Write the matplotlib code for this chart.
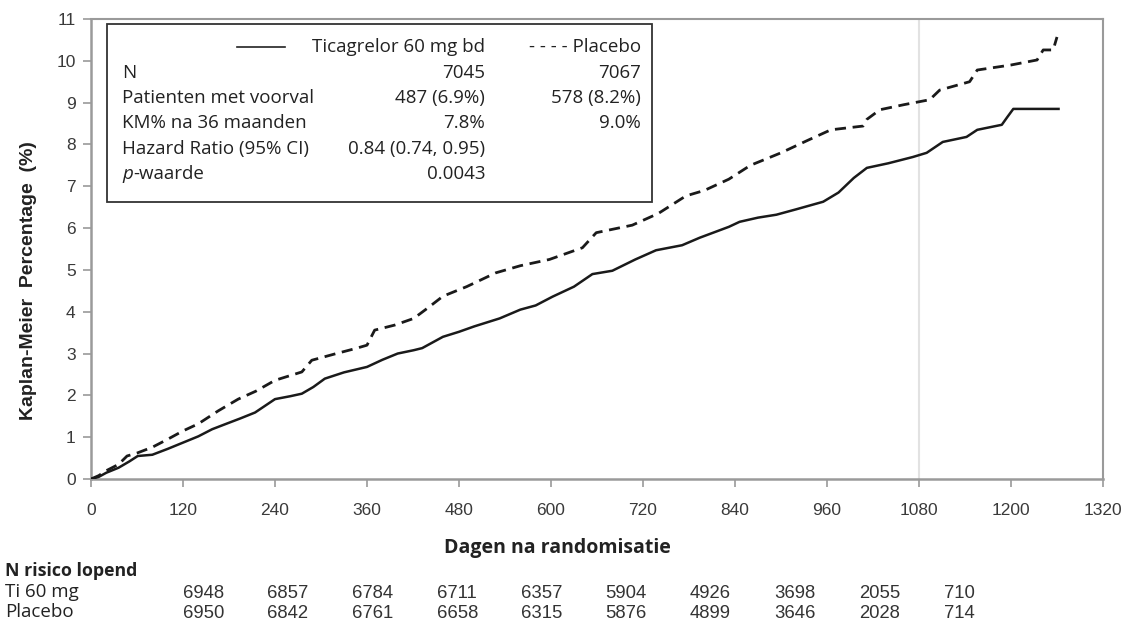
import matplotlib
matplotlib.use("Agg")
import matplotlib.pyplot as plt

# ---- data ----
tica_days = [0, 10, 20, 36, 50, 61, 80, 100, 120, 140, 158, 175, 195, 214, 240, 260, 275, 290, 305, 330,
             360, 380, 400, 421, 432, 459, 480, 500, 533, 560, 580, 602, 630, 654, 680, 710, 737, 771, 794,
             832, 846, 870, 894, 920, 955, 975, 995, 1012, 1040, 1072, 1090, 1111, 1142, 1156, 1188, 1195,
             1203, 1262]
tica_pct = [0, 0.05, 0.15, 0.27, 0.42, 0.55, 0.58, 0.72, 0.87, 1.02, 1.19, 1.31, 1.45, 1.59, 1.91, 1.98,
            2.04, 2.2, 2.4, 2.55, 2.68, 2.85, 3.0, 3.08, 3.13, 3.4, 3.52, 3.65, 3.84, 4.05, 4.15, 4.36, 4.6,
            4.9, 4.98, 5.25, 5.47, 5.59, 5.77, 6.03, 6.15, 6.25, 6.32, 6.45, 6.63, 6.85, 7.2, 7.44, 7.55,
            7.7, 7.8, 8.06, 8.18, 8.35, 8.47, 8.65, 8.85, 8.85]
plac_days = [0, 10, 20, 36, 47, 60, 80, 100, 120, 140, 166, 192, 215, 240, 275, 288, 320, 345, 360, 370,
             396, 421, 440, 459, 490, 528, 560, 598, 641, 659, 706, 740, 776, 800, 832, 860, 900, 935, 965,
             1007, 1012, 1029, 1060, 1094, 1107, 1146, 1156, 1200, 1234, 1242, 1255, 1260]
plac_pct = [0, 0.08, 0.2, 0.35, 0.55, 0.62, 0.76, 0.95, 1.15, 1.32, 1.63, 1.91, 2.1, 2.36, 2.56, 2.84,
            3.0, 3.12, 3.2, 3.56, 3.68, 3.84, 4.1, 4.37, 4.6, 4.93, 5.1, 5.25, 5.53, 5.89, 6.07, 6.35, 6.77,
            6.9, 7.17, 7.5, 7.8, 8.1, 8.35, 8.44, 8.6, 8.83, 8.95, 9.07, 9.3, 9.5, 9.78, 9.9, 10.02, 10.26,
            10.26, 10.57]

x_ticks = [0, 120, 240, 360, 480, 600, 720, 840, 960, 1080, 1200, 1320]
y_ticks = list(range(0, 12))

risk_tica = ["6948", "6857", "6784", "6711", "6357", "5904", "4926", "3698", "2055", "710"]
risk_plac = ["6950", "6842", "6761", "6658", "6315", "5876", "4899", "3646", "2028", "714"]

box_rows = ["N", "Patienten met voorval", "KM% na 36 maanden", "Hazard Ratio (95% CI)"]
box_tica = ["7045", "487 (6.9%)", "7.8%", "0.84 (0.74, 0.95)", "0.0043"]
box_plac = ["7067", "578 (8.2%)", "9.0%", "", ""]

# ---- figure ----
W, H = 1131, 624
fig = plt.figure(figsize=(W / 100, H / 100), dpi=100)
ax = fig.add_axes([91 / W, 1 - 479 / H, (1103 - 91) / W, (479 - 19) / H])

gray = "#9a9a9a"
ax.axvline(1080, color="#e2e2e2", lw=1.5, zorder=1)
ax.plot(tica_days, tica_pct, color="#1a1a1a", lw=1.8, zorder=3)
ax.plot(plac_days, plac_pct, color="#1a1a1a", lw=2.0, dashes=(4, 2.4), zorder=3)

ax.set_xlim(0, 1320)
ax.set_ylim(0, 11)
ax.set_xticks(x_ticks)
ax.set_yticks(y_ticks)
tick_font = dict(family="Liberation Sans", size=12.5, color="#3a3a3a")
ax.set_xticklabels([str(v) for v in x_ticks], **tick_font)
ax.set_yticklabels([str(v) for v in y_ticks], **tick_font)
ax.tick_params(axis="both", direction="out", length=6, width=1.2, color=gray, pad=5)
ax.tick_params(axis="x", pad=11)
for s in ["left", "bottom"]:
    ax.spines[s].set_color(gray)
    ax.spines[s].set_linewidth(1.8)
for s in ["top", "right"]:
    ax.spines[s].set_color(gray)
    ax.spines[s].set_linewidth(1.5)

# y label
fig.text(29 / W, 1 - 281 / H, "Kaplan-Meier  Percentage  (%)", rotation=90, ha="center", va="center",
         family="Liberation Sans", fontweight="bold", size=14, color="#222222")
# x label
fig.text(557 / W, 1 - 548 / H, "Dagen na randomisatie", ha="center", va="center",
         family="Open Sans", fontweight="bold", size=14, color="#222222")

# ---- legend/info box ----
bx0, bx1 = 107, 652
by0, by1 = 24, 202
rect = plt.Rectangle((bx0 / W, 1 - by1 / H), (bx1 - bx0) / W, (by1 - by0) / H, transform=fig.transFigure,
                     fill=True, facecolor="white", edgecolor="#333333", lw=1.3, zorder=5)
fig.add_artist(rect)
bfont = dict(family="Open Sans", size=13.5, color="#222222", zorder=6)
fig.add_artist(plt.Line2D([237 / W, 285 / W], [1 - 47 / H, 1 - 47 / H], color="#222222", lw=1.2,
                          transform=fig.transFigure, zorder=6))
base = 5  # baseline offset (px) below the row centre
fig.text(485 / W, 1 - (47 + base) / H, "Ticagrelor 60 mg bd", ha="right", va="baseline", **bfont)
fig.text(641 / W, 1 - (47 + base) / H, "- - - - Placebo", ha="right", va="baseline", **bfont)
row_y = [73, 98, 123, 149, 174]
for i, lbl in enumerate(box_rows):
    fig.text(122 / W, 1 - (row_y[i] + base) / H, lbl, ha="left", va="baseline", **bfont)
t_p = fig.text(122 / W, 1 - (row_y[4] + base) / H, "p", ha="left", va="baseline", style="italic", **bfont)
fig.canvas.draw()
bb = t_p.get_window_extent()
fig.text(bb.x1 / W, 1 - (row_y[4] + base) / H, "-waarde", ha="left", va="baseline", **bfont)
for i in range(5):
    fig.text(485 / W, 1 - (row_y[i] + base) / H, box_tica[i], ha="right", va="baseline", **bfont)
    if box_plac[i]:
        fig.text(641 / W, 1 - (row_y[i] + base) / H, box_plac[i], ha="right", va="baseline", **bfont)

# ---- number at risk ----
lfont = dict(family="Open Sans", color="#222222")
fig.text(5 / W, 1 - 571 / H, "N risico lopend", ha="left", va="center", fontweight="bold", size=12.8, **lfont)
fig.text(5 / W, 1 - 592 / H, "Ti 60 mg", ha="left", va="center", size=13.5, **lfont)
fig.text(5 / W, 1 - 612 / H, "Placebo", ha="left", va="center", size=13.5, **lfont)
nfont = dict(family="Liberation Sans", size=13.3, color="#333333")
for i in range(len(risk_tica)):
    xpx = 183 + i * 84.5
    fig.text(xpx / W, 1 - 593 / H, risk_tica[i], ha="left", va="center", **nfont)
    fig.text(xpx / W, 1 - 613 / H, risk_plac[i], ha="left", va="center", **nfont)

fig.savefig("out.png", dpi=100, facecolor="white")
